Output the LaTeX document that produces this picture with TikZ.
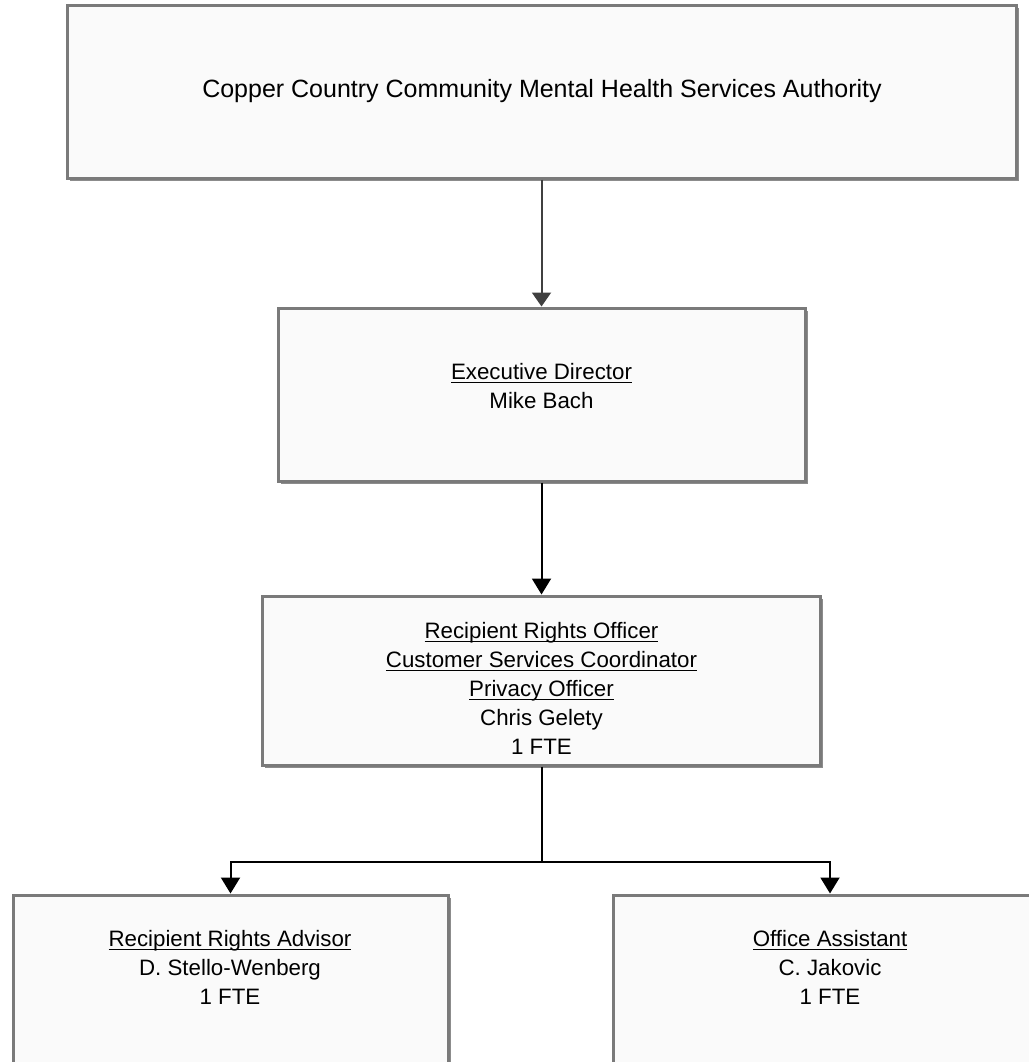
\documentclass[tikz,border=0pt]{standalone}
\usepackage{fontspec}
\setmainfont{Liberation Sans}
\usetikzlibrary{arrows.meta,shadows}
\definecolor{boxfill}{RGB}{250,250,250}
\definecolor{boxline}{RGB}{122,122,122}
\definecolor{darkarrow}{RGB}{64,64,64}
\newsavebox{\myulbox}
\newcommand{\myul}[1]{\sbox{\myulbox}{#1}\rlap{\usebox{\myulbox}}\raisebox{-4pt}{\rule{\wd\myulbox}{1.3pt}}}
\tikzset{
  orgbox/.style={draw=boxline, fill=boxfill, line width=3pt, rectangle, inner sep=0pt,
    drop shadow={shadow xshift=2.5pt, shadow yshift=-2.5pt, fill=black, opacity=0.45}},
  boxtext/.style={align=center, font=\fontsize{22.3pt}{29pt}\selectfont, inner sep=0pt},
  toptext/.style={align=center, font=\fontsize{25pt}{30pt}\selectfont, inner sep=0pt},
  conn/.style={line width=2pt, black},
  arr/.style={conn, -{Triangle[width=19pt,length=16pt]}},
  arrgray/.style={line width=2pt, darkarrow, -{Triangle[width=19pt,length=14pt]}}
}
\begin{document}
\begin{tikzpicture}[x=1pt,y=-1pt]
\useasboundingbox (0,0) rectangle (1028,1062);
% boxes
\node[orgbox, minimum width=949pt, minimum height=172pt] (top) at (541.5,92) {};
\node[orgbox, minimum width=527pt, minimum height=173pt] (exec) at (541.5,394.5) {};
\node[orgbox, minimum width=558pt, minimum height=169pt] (rro) at (541.5,680.5) {};
\node[orgbox, minimum width=435pt, minimum height=200pt] (lb) at (230.5,995) {};
\node[orgbox, minimum width=434pt, minimum height=200pt] (rb) at (830,995) {};
% texts
\node[toptext] (topT) at (542,91) {Copper Country Community Mental Health Services Authority};
\node[boxtext] (execT) at (541.5,386) {\myul{Executive Director}\\Mike Bach};
\node[boxtext] (rroT) at (541.5,688) {\myul{Recipient Rights Officer}\\\myul{Customer Services Coordinator}\\\myul{Privacy Officer}\\Chris Gelety\\1 FTE};
\node[boxtext] (lbT) at (230,967) {\myul{Recipient Rights Advisor}\\D. Stello-Wenberg\\1 FTE};
\node[boxtext] (rbT) at (830,967) {\myul{Office Assistant}\\C. Jakovic\\1 FTE};
% connectors
\coordinate (split) at (541.5,862);
\draw[arrgray] (top.south) -- (exec.north);
\draw[arr] (exec.south) -- (rro.north);
\draw[conn] (rro.south) -- (split);
\draw[arr] (split) -| (lb.north);
\draw[arr] (split) -| (rb.north);
\end{tikzpicture}
\end{document}
